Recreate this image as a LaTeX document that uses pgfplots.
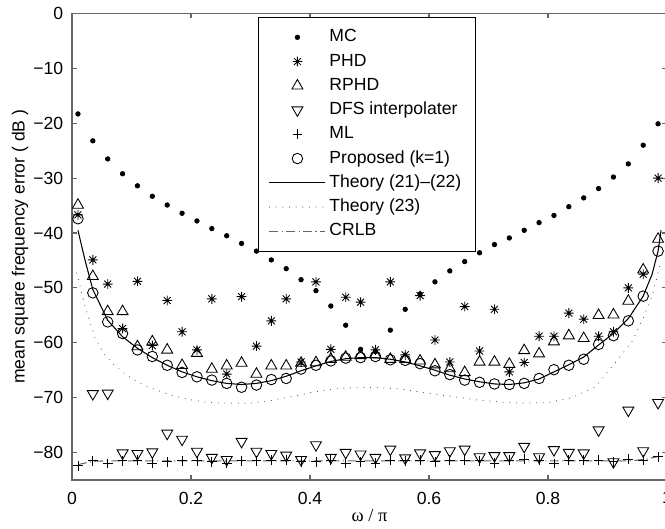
\documentclass[border=0pt]{standalone}
\usepackage{fontspec}
\setmainfont{Liberation Sans}
\newfontfamily\serif{Liberation Serif}
\usepackage{pgfplots}
\usepackage{pgfplotstable}
\pgfplotsset{compat=1.18}

% MATLAB-style '*' marker: plus and cross together
\pgfdeclareplotmark{ast8}{%
  \pgfpathmoveto{\pgfqpoint{0pt}{\pgfplotmarksize}}%
  \pgfpathlineto{\pgfqpoint{0pt}{-\pgfplotmarksize}}%
  \pgfpathmoveto{\pgfqpoint{\pgfplotmarksize}{0pt}}%
  \pgfpathlineto{\pgfqpoint{-\pgfplotmarksize}{0pt}}%
  \pgfpathmoveto{\pgfqpoint{0.707\pgfplotmarksize}{0.707\pgfplotmarksize}}%
  \pgfpathlineto{\pgfqpoint{-0.707\pgfplotmarksize}{-0.707\pgfplotmarksize}}%
  \pgfpathmoveto{\pgfqpoint{-0.707\pgfplotmarksize}{0.707\pgfplotmarksize}}%
  \pgfpathlineto{\pgfqpoint{0.707\pgfplotmarksize}{-0.707\pgfplotmarksize}}%
  \pgfusepathqstroke}

\pgfplotstableread{
x     mc    phd   rphd  dfs   ml    prop
0.010 -18.3 -36.7 -34.9 nan   -82.4 -37.4
0.035 -23.2 -44.9 -47.9 -69.3 -81.5 -50.9
0.060 -26.5 -49.3 -54.3 -69.2 -82.0 -56.2
0.085 -29.2 -57.4 -54.3 -80.1 -81.5 -58.3
0.110 -31.4 -48.8 -60.7 -80.2 -81.4 -61.3
0.135 -33.3 -60.5 -59.8 -79.9 -81.9 -62.5
0.160 -34.9 -52.3 -61.3 -76.5 -81.7 -64.1
0.185 -36.4 -58.0 -64.1 -77.6 -81.5 -65.4
0.210 -37.8 -61.3 -61.9 -79.8 -81.5 -66.2
0.235 -39.2 -52.0 -64.8 -80.9 -81.7 -66.8
0.260 -40.5 -65.7 -64.2 -81.3 -81.9 -67.4
0.285 -41.9 -51.6 -63.7 -78.0 -81.5 -68.1
0.310 -43.3 -60.6 -65.7 -79.8 -81.5 -67.7
0.335 -44.9 -56.0 -64.2 -80.2 -81.4 -66.7
0.360 -46.5 -52.0 -64.2 -80.5 -81.4 -66.5
0.385 -48.5 -63.5 -63.7 -81.3 -81.7 -64.8
0.410 -50.5 -48.9 -63.6 -78.6 -81.7 -64.1
0.435 -53.3 -61.2 -63.0 -80.9 -81.4 -63.3
0.460 -56.8 -51.7 -62.6 -80.0 -81.9 -62.8
0.485 -61.2 -52.6 -62.3 -80.3 -81.7 -62.7
0.510 -61.6 -61.3 -62.2 -80.9 -81.9 -62.5
0.535 -57.7 -48.9 -63.0 -79.4 -81.4 -63.1
0.560 -53.9 -62.2 -63.0 -81.0 -81.5 -63.2
0.585 -51.1 -51.4 -63.3 -80.1 -81.4 -63.8
0.610 -48.9 -59.5 -64.0 -80.4 -81.7 -65.1
0.635 -46.9 -63.5 -64.7 -79.7 -81.4 -65.8
0.660 -45.2 -53.4 -65.4 -79.4 -81.4 -66.8
0.685 -43.6 -61.5 -63.5 -80.8 -81.5 -67.2
0.710 -42.1 -53.9 -63.5 -80.6 -81.9 -67.5
0.735 -40.9 -65.3 -63.9 -80.6 -81.4 -67.6
0.760 -39.5 -63.6 -61.4 -78.9 -81.2 -67.4
0.785 -38.1 -58.8 -62.0 -80.8 -81.4 -66.5
0.810 -36.8 -58.8 -59.8 -79.5 -82.0 -64.9
0.835 -35.2 -54.6 -58.7 -80.0 -81.4 -64.1
0.860 -33.6 -55.7 -59.2 -80.1 -81.4 -63.0
0.885 -31.9 -58.8 -55.0 -75.9 -81.4 -60.3
0.910 -29.8 -58.0 -54.9 -81.7 -81.7 -58.7
0.935 -27.4 -50.0 -52.4 -72.3 -81.2 -56.0
0.960 -24.0 -47.5 -46.7 -79.7 -81.4 -51.5
0.985 -20.1 -30.0 -41.1 -70.9 -80.8 -43.3
}\est

\begin{document}
\begin{tikzpicture}
\begin{axis}[
    scale only axis,
    width=11.9cm, height=9.33cm,
    xmin=0, xmax=1, ymin=-85, ymax=0,
    xtick={0,0.2,0.4,0.6,0.8,1},
    xticklabels={0,0.2,0.4,0.6,0.8,1},
    ytick={-80,-70,-60,-50,-40,-30,-20,-10,0},
    yticklabels={−80,−70,−60,−50,−40,−30,−20,−10,0},
    tick align=inside, major tick length=0.1cm,
    axis line style={black!60, line width=0.7pt},
    tick style={black!60, line width=0.6pt},
    ticklabel style={font=\fontsize{10}{12}\selectfont},
    xticklabel style={inner sep=0pt, yshift=-0.23cm},
    yticklabel style={inner sep=0pt, xshift=-0.17cm},
    xlabel={ω / π},
    ylabel={mean square frequency error ( dB )},
    xlabel style={at={(axis description cs:0.5,-0.0772)}, anchor=center, font=\fontsize{10.5}{12}\selectfont\serif},
    ylabel style={at={(axis description cs:-0.0874,0.5)}, anchor=center, font=\fontsize{10}{12}\selectfont},
    legend cell align=left,
    legend style={at={(axis description cs:0.3126,0.9925)}, anchor=north west,
        draw=black, fill=white, inner xsep=6pt, inner ysep=4.5pt, row sep=0.1pt,
        font=\fontsize{10}{12}\selectfont,
        nodes={inner sep=2pt, text height=7.5pt, text depth=2.2pt}},
    legend image code/.code={\draw[mark repeat=2,mark phase=2,#1] plot coordinates {(0cm,0cm) (0.56cm,0cm) (1.12cm,0cm)};},
]
\addplot[only marks, black, mark=*, mark size=1.3pt] table[x=x, y=mc] {\est};
\addlegendentry{MC}
\addplot[only marks, black, line width=0.5pt, mark=ast8, mark size=2.8pt] table[x=x, y=phd] {\est};
\addlegendentry{PHD}
\addplot[only marks, black, line width=0.5pt, mark=triangle, mark size=3.6pt] table[x=x, y=rphd] {\est};
\addlegendentry{RPHD}
\addplot[only marks, black, line width=0.5pt, mark=triangle, mark size=3.6pt, mark options={rotate=180}] table[x=x, y=dfs] {\est};
\addlegendentry{DFS interpolater}
\addplot[only marks, black, line width=0.5pt, mark=+, mark size=2.8pt] table[x=x, y=ml] {\est};
\addlegendentry{ML}
\addplot[only marks, black, line width=0.5pt, mark=o, mark size=3pt] table[x=x, y=prop] {\est};
\addlegendentry{Proposed (k=1)}

% Theory (21)-(22)
\addplot[black, line width=0.6pt] coordinates {
    (0.010,-39.5) (0.022,-45.0) (0.035,-50.3) (0.060,-55.9) (0.085,-58.9)
    (0.110,-61.0) (0.135,-62.7) (0.160,-64.1) (0.185,-65.3) (0.210,-66.2)
    (0.235,-66.9) (0.260,-67.4) (0.285,-67.6) (0.310,-67.4) (0.335,-66.9)
    (0.360,-66.1) (0.385,-65.1) (0.410,-64.2) (0.435,-63.4) (0.460,-62.9)
    (0.485,-62.7) (0.510,-62.7) (0.535,-63.0) (0.560,-63.5) (0.585,-64.2)
    (0.610,-65.0) (0.635,-65.9) (0.660,-66.6) (0.685,-67.1) (0.710,-67.5)
    (0.735,-67.6) (0.760,-67.3) (0.785,-66.6) (0.810,-65.3) (0.835,-64.0)
    (0.860,-62.6) (0.885,-60.4) (0.910,-58.3) (0.935,-55.6) (0.960,-51.5)
    (0.975,-47.5) (0.985,-43.3) (0.990,-39.5)
};
\addlegendentry{Theory (21)–(22)}

% Theory (23)
\addplot[black!75, line width=0.6pt, line cap=round, dash pattern=on 0pt off 3.8pt] coordinates {
    (0.008,-47.3) (0.016,-50.7) (0.022,-53.4) (0.038,-58.9) (0.053,-61.9)
    (0.070,-64.0) (0.090,-65.7) (0.109,-67.1) (0.134,-68.3) (0.165,-69.5)
    (0.200,-70.4) (0.230,-70.9) (0.265,-71.0) (0.300,-71.0) (0.330,-70.6)
    (0.370,-69.8) (0.410,-68.9) (0.450,-68.3) (0.500,-68.1) (0.550,-68.4)
    (0.600,-69.2) (0.640,-69.8) (0.680,-70.4) (0.720,-70.8) (0.760,-71.0)
    (0.800,-70.9) (0.840,-70.0) (0.880,-68.0) (0.910,-64.0) (0.940,-60.0)
    (0.960,-55.5) (0.975,-51.5) (0.988,-46.0)
};
\addlegendentry{Theory (23)}

% CRLB
\addplot[black!60, line width=0.6pt, dash pattern=on 5pt off 2pt on 0.6pt off 2pt] coordinates {
    (0.010,-82.2) (0.035,-81.6) (0.060,-81.5) (0.200,-81.5) (0.400,-81.5)
    (0.600,-81.5) (0.800,-81.5) (0.940,-81.5) (0.965,-81.2) (0.990,-80.6)
};
\addlegendentry{CRLB}

\coordinate (bl) at (rel axis cs:0,0);
\coordinate (tr) at (rel axis cs:1,1);
\end{axis}
\pgfresetboundingbox
\path[use as bounding box] ([shift={(-1.44cm,-0.98cm)}]bl) rectangle ([shift={(-0.04cm,0.27cm)}]tr);
\end{tikzpicture}
\end{document}
